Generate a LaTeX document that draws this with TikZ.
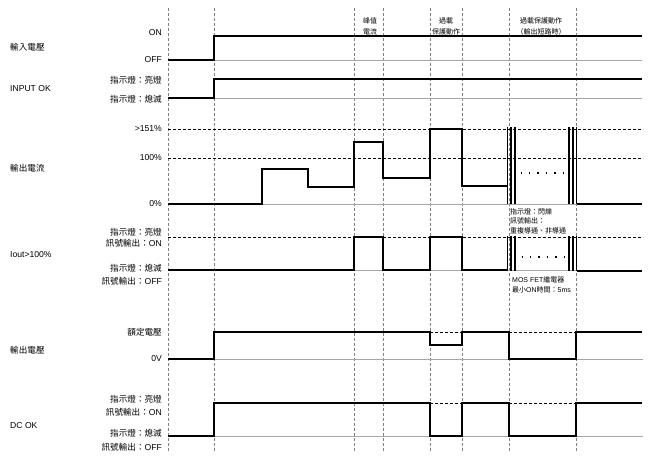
\documentclass[tikz,border=0pt]{standalone}
\usepackage{fontspec}
\setmainfont{Liberation Sans}
\newfontfamily\cjk{Noto Sans CJK TC}
\begin{document}
\begin{tikzpicture}[x=1pt,y=-1pt,
  vgrid/.style={gray, line width=0.6pt, dash pattern=on 3pt off 2pt},
  sig/.style={black, line width=2pt, line join=miter},
  refline/.style={black, line width=0.8pt, dash pattern=on 2.5pt off 2.5pt},
  baseline/.style={gray!70, line width=0.7pt},
  lvl/.style={anchor=east, inner sep=0pt, font=\fontsize{8.6pt}{10pt}\selectfont},
  sname/.style={anchor=west, inner sep=0pt, font=\fontsize{8.6pt}{10pt}\selectfont},
  note/.style={anchor=west, inner sep=0pt, font=\fontsize{7pt}{8pt}\selectfont, align=left},
  head/.style={inner sep=0pt, font=\cjk\fontsize{7pt}{8pt}\selectfont, align=center},
  dotrow/.style={black, line width=1.5pt, dash pattern=on 1.5pt off 6.9pt}]
\useasboundingbox (0,0) rectangle (650,461);
\fill[white] (0,0) rectangle (650,461);
% vertical grid
\foreach \x in {168,214,354,383,430,462,509,576}
  \draw[vgrid] (\x,8) -- (\x,452);
% headers
\node[head] (h1a) at (370,21) {峰值};
\node[head] (h1b) at (370,32) {電流};
\node[head] (h2a) at (446,21) {過載};
\node[head] (h2b) at (446,32) {保護動作};
\node[head] (h3a) at (541,21) {過載保護動作};
\node[head] (h3b) at (541,32) {（輸出短路時）};
% signal names
\node[sname] (n1) at (10,47) {\cjk 輸入電壓};
\node[sname] (n2) at (10,89) {INPUT OK};
\node[sname] (n3) at (10,168) {\cjk 輸出電流};
\node[sname] (n4) at (10,255) {Iout>100\%};
\node[sname] (n5) at (10,350) {\cjk 輸出電壓};
\node[sname] (n6) at (10,426) {DC OK};
% level labels
\node[lvl] (l1) at (162,33) {ON};
\node[lvl] (l2) at (162,60) {OFF};
\node[lvl] (l3) at (162,80) {\cjk 指示燈：亮燈};
\node[lvl] (l4) at (162,99) {\cjk 指示燈：熄滅};
\node[lvl] (l5) at (162,129) {>151\%};
\node[lvl] (l6) at (162,158) {100\%};
\node[lvl] (l7) at (162,204) {0\%};
\node[lvl] (l8) at (162,232) {\cjk 指示燈：亮燈};
\node[lvl] (l9) at (162,243) {{\cjk 訊號輸出：}ON};
\node[lvl] (l10) at (162,268) {\cjk 指示燈：熄滅};
\node[lvl] (l11) at (162,281) {{\cjk 訊號輸出：}OFF};
\node[lvl] (l12) at (162,332) {\cjk 額定電壓};
\node[lvl] (l13) at (162,359) {0V};
\node[lvl] (l14) at (162,399) {\cjk 指示燈：亮燈};
\node[lvl] (l15) at (162,412) {{\cjk 訊號輸出：}ON};
\node[lvl] (l16) at (162,433) {\cjk 指示燈：熄滅};
\node[lvl] (l17) at (162,447) {{\cjk 訊號輸出：}OFF};
% notes
\node[note] (t1) at (510,212) {\cjk 指示燈：閃爍};
\node[note] (t2) at (510,221) {\cjk 訊號輸出：};
\node[note] (t3) at (510,231) {\cjk 重複導通、非導通};
\node[note] (t4) at (512,280) {MOS FET{\cjk 繼電器}};
\node[note] (t5) at (512,290) {{\cjk 最小}ON{\cjk 時間：}5ms};
% baselines
\draw[baseline] (214,60) -- (642,60);
\draw[baseline] (214,98) -- (642,98);
\draw[baseline] (262,204) -- (642,204);
\draw[baseline] (168,270) -- (642,270);
\draw[baseline] (214,359) -- (643,359);
\draw[baseline] (214,436) -- (643,436);
% reference dashed lines
\draw[refline] (168,129) -- (643,129);
\draw[refline] (168,158) -- (643,158);
\draw[refline] (168,237) -- (643,237);
\draw[refline] (430,332) -- (462,332);
\draw[refline] (509,332) -- (576,332);
\draw[refline] (430,403) -- (462,403);
\draw[refline] (509,403) -- (576,403);
% input voltage
\draw[sig] (168,60) -- (214,60) -- (214,36) -- (642,36);
% input ok
\draw[sig] (168,98) -- (214,98) -- (214,79) -- (642,79);
% output current
\draw[sig] (168,204) -- (262,204) -- (262,169) -- (308,169) -- (308,187) -- (354,187)
  -- (354,142) -- (383,142) -- (383,178) -- (430,178) -- (430,129) -- (462,129)
  -- (462,186) -- (507.5,186);
\foreach \x in {507.5,511,515,569,573,576.5}
  \draw[sig, line width=1.8pt] (\x,127) -- (\x,204);
\draw[sig] (576.5,204) -- (642,204);
\draw[dotrow] (520.5,173) -- (565,173);
% iout > 100%
\draw[sig] (168,270) -- (354,270) -- (354,237) -- (383,237) -- (383,270) -- (430,270)
  -- (430,237) -- (462,237) -- (462,270) -- (507.5,270);
\foreach \x in {507.5,511,515,569,573,576.5}
  \draw[sig, line width=1.8pt] (\x,236) -- (\x,271);
\draw[sig] (576.5,271) -- (642,271);
\draw[dotrow] (521.5,257) -- (566,257);
% output voltage
\draw[sig] (168,359) -- (214,359) -- (214,332) -- (430,332) -- (430,345) -- (462,345)
  -- (462,332) -- (509,332) -- (509,359) -- (576,359) -- (576,332) -- (642,332);
% dc ok
\draw[sig] (168,436) -- (214,436) -- (214,403) -- (430,403) -- (430,436) -- (462,436)
  -- (462,403) -- (509,403) -- (509,436) -- (576,436) -- (576,403) -- (642,403);
\end{tikzpicture}
\end{document}
